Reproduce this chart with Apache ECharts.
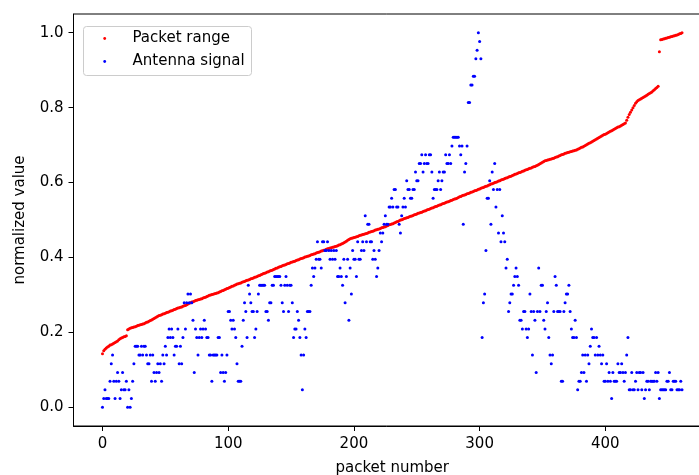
<!DOCTYPE html>
<html>
<head>
<meta charset="utf-8">
<script src="https://cdn.jsdelivr.net/npm/echarts@6/dist/echarts.min.js"></script>
<style>
html,body{margin:0;padding:0;background:#fff;}
#chart{width:699px;height:475px;}
</style>
</head>
<body>
<div id="chart"></div>
<script>
// Packet range (normalized), one value per packet number 0..461
const packetRange = [
.143,.151,.155,.158,.161,.163,.166,.167,.169,.171,
.173,.175,.177,.180,.183,.185,.186,.188,.189,.191,
.207,.209,.211,.212,.213,.214,.215,.216,.218,.219,
.220,.221,.222,.223,.225,.227,.228,.230,.232,.233,
.235,.237,.239,.241,.243,.245,.246,.247,.249,.250,
.251,.253,.254,.255,.257,.258,.259,.261,.262,.264,
.265,.266,.267,.268,.270,.271,.272,.274,.276,.278,
.279,.281,.282,.283,.285,.286,.287,.288,.289,.290,
.292,.293,.294,.296,.297,.299,.300,.301,.302,.303,
.304,.305,.306,.308,.309,.311,.312,.314,.315,.317,
.318,.320,.321,.323,.324,.326,.327,.329,.330,.331,
.332,.334,.335,.336,.338,.339,.340,.341,.343,.344,
.345,.347,.348,.349,.351,.352,.354,.355,.357,.358,
.359,.361,.362,.364,.365,.366,.368,.369,.371,.372,
.374,.375,.376,.378,.379,.380,.381,.383,.384,.385,
.387,.388,.389,.390,.392,.393,.394,.396,.397,.398,
.399,.401,.402,.403,.404,.405,.407,.408,.409,.410,
.412,.413,.414,.415,.417,.418,.419,.420,.422,.423,
.424,.425,.426,.427,.428,.429,.430,.431,.433,.434,
.436,.437,.439,.441,.443,.446,.448,.450,.451,.452,
.453,.454,.455,.456,.458,.459,.460,.461,.462,.463,
.464,.465,.467,.468,.469,.470,.471,.473,.474,.475,
.476,.477,.479,.480,.481,.482,.484,.485,.487,.488,
.489,.490,.492,.493,.495,.496,.498,.500,.501,.502,
.504,.505,.506,.507,.509,.510,.511,.512,.514,.515,
.516,.518,.519,.520,.521,.523,.524,.525,.527,.528,
.529,.531,.532,.533,.535,.536,.537,.539,.540,.541,
.543,.544,.545,.547,.548,.549,.550,.552,.553,.555,
.556,.557,.558,.560,.562,.563,.565,.566,.567,.568,
.570,.571,.572,.574,.575,.576,.578,.579,.580,.582,
.583,.585,.586,.587,.589,.590,.591,.593,.594,.596,
.597,.598,.600,.601,.602,.604,.605,.607,.608,.609,
.611,.612,.613,.615,.616,.617,.619,.620,.622,.623,
.624,.626,.627,.628,.630,.631,.633,.634,.635,.637,
.638,.639,.641,.642,.643,.645,.646,.648,.650,.652,
.654,.656,.658,.659,.660,.661,.662,.663,.664,.665,
.667,.668,.669,.671,.672,.674,.675,.676,.678,.679,
.680,.681,.682,.683,.684,.685,.686,.687,.689,.690,
.692,.694,.695,.697,.699,.701,.703,.705,.706,.708,
.710,.712,.714,.716,.718,.720,.722,.724,.726,.728,
.729,.731,.733,.735,.737,.738,.740,.742,.744,.746,
.748,.749,.751,.753,.755,.757,.759,.766,.774,.782,
.788,.794,.800,.806,.812,.816,.819,.821,.823,.825,
.827,.829,.831,.833,.836,.838,.840,.842,.845,.848,
.851,.854,.857,.949,.981,.982,.983,.984,.985,.986,
.987,.988,.989,.990,.991,.992,.993,.994,.995,.997,
.998,1.0
];

// Antenna signal readings (raw levels, max level = 43), one per packet number 0..461
const antennaLevels = [
0,1,2,1,1,1,3,5,6,3,
1,3,4,3,1,2,4,2,2,3,
0,2,0,1,3,5,7,7,7,6,
6,7,6,7,7,6,5,5,6,3,
6,4,3,4,5,4,5,3,6,5,
7,6,8,9,8,9,8,6,7,7,
9,5,7,5,8,12,9,12,13,12,
13,12,10,4,9,8,6,8,9,8,
9,10,9,8,8,6,6,3,6,6,
6,6,8,8,4,6,4,3,4,6,
11,11,10,9,10,9,8,5,3,3,
3,7,10,12,11,8,14,13,12,11,
11,8,9,11,13,14,14,14,14,14,
11,11,10,12,12,14,14,15,15,15,
15,15,14,12,11,14,15,14,11,14,
14,12,8,9,9,11,10,8,6,2,
6,9,8,11,11,11,14,16,15,16,
17,19,17,17,16,19,19,18,18,19,
18,17,18,17,18,17,18,15,15,16,
15,14,17,12,15,17,10,16,13,18,
17,17,15,19,17,17,18,19,18,22,
19,21,21,19,19,17,18,17,15,16,
18,20,19,20,21,22,21,21,23,23,
24,23,25,25,23,23,21,20,22,23,
24,23,26,25,25,24,24,25,25,27,
26,26,28,28,29,27,28,29,28,28,
29,29,27,24,25,25,25,26,27,25,
26,27,27,29,28,28,29,28,30,31,
31,31,31,31,30,29,30,21,27,28,
30,35,35,37,37,38,38,40,41,43,
42,40,8,12,13,18,24,24,26,21,
27,25,28,23,25,20,25,19,22,20,
19,16,17,11,12,13,13,14,15,16,
15,14,10,10,9,11,11,9,8,9,
13,11,6,11,10,4,11,16,11,14,
14,10,9,11,12,8,6,5,6,11,
15,14,11,11,11,3,3,11,12,13,
13,14,11,9,8,8,10,8,2,3,
3,4,6,4,6,3,6,5,7,9,
8,8,6,8,6,7,6,5,6,3,
3,5,3,4,3,1,4,3,3,3,
5,4,4,5,4,3,4,6,8,2,
2,4,2,2,3,4,2,4,4,2,
4,1,2,3,3,2,3,3,3,3,
4,3,4,1,2,2,2,2,2,3,
3,4,2,2,3,3,3,2,2,2,3,2
];
const antennaMaxLevel = 43;

const xTicks = [0, 100, 200, 300, 400];
const yTicks = [0, 0.2, 0.4, 0.6, 0.8, 1.0];
const seriesNames = ['Packet range', 'Antenna signal'];
const seriesColors = ['#ff0000', '#0000ff'];

const rangeData = packetRange.map((v, i) => [i, v]);
const antennaData = antennaLevels.map((v, i) => [i, v / antennaMaxLevel]);

const FONT = 'DejaVu Sans';
const FS = 15;

// legend drawn as graphic elements (matplotlib-style box)
const LG = {x: 83.5, y: 26.5, w: 168, h: 49, markX: 104.7, textX: 132.5, rows: [38.5, 61.5]};
const legendGraphics = [
  {type: 'rect', shape: {x: LG.x, y: LG.y, width: LG.w, height: LG.h, r: 3},
   style: {fill: 'rgba(255,255,255,0.8)', stroke: '#cccccc', lineWidth: 1}, z: 100}
];
seriesNames.forEach((name, i) => {
  legendGraphics.push({type: 'circle', shape: {cx: LG.markX, cy: LG.rows[i], r: 1.4},
    style: {fill: seriesColors[i]}, z: 101});
  legendGraphics.push({type: 'text', x: LG.textX, y: LG.rows[i],
    style: {text: name, fill: '#000', font: FS + 'px "' + FONT + '"', textVerticalAlign: 'middle', verticalAlign: 'middle', textAlign: 'left'}, z: 101});
});

const chart = echarts.init(document.getElementById('chart'), null, {renderer: 'canvas'});
chart.setOption({
  animation: false,
  backgroundColor: '#ffffff',
  textStyle: {fontFamily: FONT},
  grid: {
    left: 73.5, top: 14, width: 637.5, height: 412,
    containLabel: false,
    outerBoundsMode: 'none',
    show: true, borderColor: '#000', borderWidth: 1, backgroundColor: 'transparent'
  },
  graphic: legendGraphics,
  xAxis: {
    type: 'value',
    min: -23.05, max: 484.05,
    name: 'packet number',
    nameLocation: 'middle',
    nameGap: 35,
    nameTextStyle: {fontFamily: FONT, fontSize: FS, color: '#000'},
    axisLine: {show: true, onZero: false, lineStyle: {color: '#000', width: 1}},
    axisTick: {show: true, inside: false, length: 5, lineStyle: {color: '#000', width: 1}, customValues: xTicks},
    axisLabel: {show: true, margin: 11, fontFamily: FONT, fontSize: FS, color: '#000', customValues: xTicks,
      formatter: v => String(v)},
    splitLine: {show: false}
  },
  yAxis: {
    type: 'value',
    min: -0.05, max: 1.05,
    name: 'normalized value',
    nameLocation: 'middle',
    nameRotate: 90,
    nameGap: 45.5,
    nameTextStyle: {fontFamily: FONT, fontSize: FS, color: '#000'},
    axisLine: {show: true, onZero: false, lineStyle: {color: '#000', width: 1}},
    axisTick: {show: true, inside: false, length: 5, lineStyle: {color: '#000', width: 1}, customValues: yTicks},
    axisLabel: {show: true, margin: 10, fontFamily: FONT, fontSize: FS, color: '#000', customValues: yTicks,
      formatter: v => v.toFixed(1)},
    splitLine: {show: false}
  },
  series: [
    {
      name: seriesNames[0], type: 'scatter', data: rangeData,
      symbol: 'circle', symbolSize: 3,
      itemStyle: {color: seriesColors[0], opacity: 1},
      clip: true
    },
    {
      name: seriesNames[1], type: 'scatter', data: antennaData,
      symbol: 'circle', symbolSize: 3,
      itemStyle: {color: seriesColors[1], opacity: 1},
      clip: true
    }
  ]
});
</script>
</body>
</html>
